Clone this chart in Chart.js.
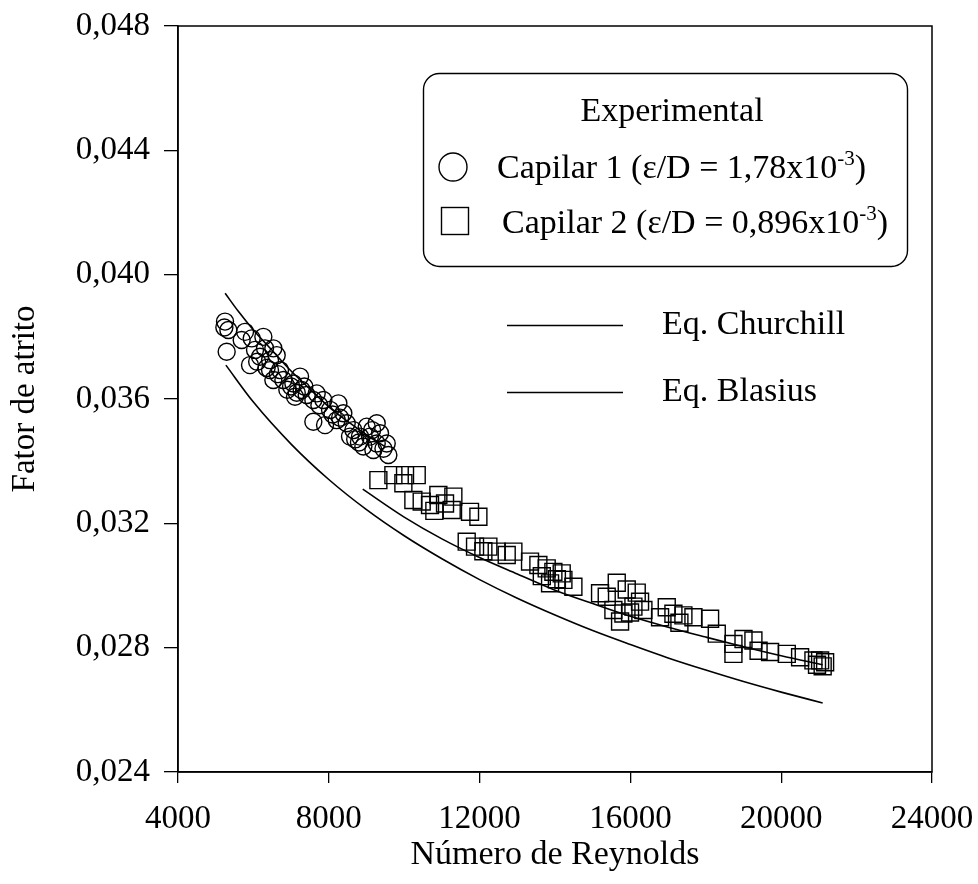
<!DOCTYPE html>
<html>
<head>
<meta charset="utf-8">
<script src="https://cdn.jsdelivr.net/npm/chart.js@4"></script>
<style>
  html, body { margin: 0; padding: 0; background: #fff; }
  #wrap { width: 978px; height: 884px; position: relative; }
</style>
</head>
<body>
<div id="wrap"><canvas id="chart" width="978" height="884"></canvas></div>
<script>
// --- data ---
const xTicks = [4000, 8000, 12000, 16000, 20000, 24000];
const yTicks = [0.024, 0.028, 0.032, 0.036, 0.040, 0.044, 0.048];

// Capilar 1 (circles)
const reCap1 = [5247, 5336, 5291, 5230, 5778, 5689, 5955, 6264, 6043, 6308, 6529, 5910, 6176, 6441, 6618,
  6441, 6706, 6529, 6795, 7060, 7237, 7281, 7104, 7414, 7590, 7679, 7856, 7590, 7900, 8033,
  8254, 8386, 8210, 8475, 8652, 8563, 8828, 9005, 9271, 9094, 9359, 9271, 9536, 9580, 8917,
  9182, 6100, 6350, 6900, 7150, 7350, 7750, 8100, 8300, 8700, 9150, 9450, 6650, 7000, 8800];
const fCap1 = [0.03849, 0.03822, 0.03752, 0.03830, 0.03816, 0.03790, 0.03795, 0.03800, 0.03758, 0.03763, 0.03763, 0.03709, 0.03736, 0.03725, 0.03741,
  0.03693, 0.03693, 0.03661, 0.03661, 0.03650, 0.03672, 0.03629, 0.03607, 0.03613, 0.03597, 0.03618, 0.03597, 0.03527, 0.03516, 0.03565,
  0.03586, 0.03554, 0.03532, 0.03522, 0.03500, 0.03479, 0.03479, 0.03511, 0.03522, 0.03479, 0.03490, 0.03457, 0.03457, 0.03420, 0.03447,
  0.03436, 0.03720, 0.03700, 0.03630, 0.03620, 0.03640, 0.03580, 0.03550, 0.03540, 0.03470, 0.03500, 0.03440, 0.03680, 0.03640, 0.03460];

// Capilar 2 (squares)
const reCap2 = [9315, 9713, 10022, 10332, 9978, 10243, 10464, 10685, 10906, 11083, 11260, 11304, 11746, 11968,
  11658, 11879, 12233, 12454, 12719, 12896, 13338, 13559, 13780, 13957, 14178, 14223, 13869, 14488,
  15195, 15372, 15549, 15814, 16080, 16256, 16345, 15726, 15638, 15903, 16168, 15991, 16964, 16787,
  17141, 17406, 17672, 18114, 18291, 18733, 19000, 19263, 18733, 19705, 20148, 20501, 20855, 21032,
  21165, 21100, 20950, 13650, 14050, 12100, 10800, 17300, 19400];
const fCap2 = [0.03339, 0.03355, 0.03355, 0.03355, 0.03329, 0.03275, 0.03270, 0.03259, 0.03291, 0.03264, 0.03243, 0.03286, 0.03237, 0.03221,
  0.03141, 0.03125, 0.03125, 0.03109, 0.03098, 0.03109, 0.03077, 0.03066, 0.03055, 0.03044, 0.03039, 0.03018, 0.03007, 0.02996,
  0.02975, 0.02964, 0.02921, 0.02910, 0.02932, 0.02948, 0.02921, 0.02884, 0.03009, 0.02987, 0.02977, 0.02913, 0.02930, 0.02898,
  0.02909, 0.02904, 0.02898, 0.02893, 0.02845, 0.02812, 0.02828, 0.02823, 0.02780, 0.02786, 0.02780, 0.02769, 0.02759, 0.02759,
  0.02753, 0.02740, 0.02745, 0.03030, 0.03020, 0.03110, 0.03240, 0.02880, 0.02790];

// Eq. Churchill (one curve per capillary)
const reChurchill1 = [5250, 5600, 6000, 6500, 7000, 7500, 8000, 8500, 9000, 9500];
const fChurchill1 = [0.03940, 0.03882, 0.03822, 0.03756, 0.03690, 0.03632, 0.03575, 0.03528, 0.03485, 0.03446];
const reChurchill2 = [8900, 10000, 11000, 12000, 13000, 14000, 15000, 16000, 17000, 18000, 19000, 20000, 21100];
const fChurchill2 = [0.03310, 0.03220, 0.03150, 0.03090, 0.03037, 0.02985, 0.02942, 0.02901, 0.02866, 0.02834, 0.02803, 0.02774, 0.02745];

// Eq. Blasius
const reBlasius = [5270, 6000, 7000, 8000, 9000, 10000, 11000, 12000, 13000, 14000, 15000, 16000, 17000, 18000, 19000, 20000, 21100];
const fBlasius = [0.03709, 0.03590, 0.03455, 0.03341, 0.03244, 0.03160, 0.03086, 0.03019, 0.02959, 0.02905, 0.02855, 0.02810, 0.02767, 0.02728, 0.02691, 0.02657, 0.02622];

const pts = (xs, ys) => xs.map((x, i) => ({ x: x, y: ys[i] }));
const serif = '"Liberation Serif", "Times New Roman", serif';
const legendFont = '34px ' + serif;

// frame + hand-made legend
const framePlugin = {
    id: 'frame',
    afterDraw(chart) {
        const { ctx, chartArea: a } = chart;
        ctx.save();
        ctx.strokeStyle = '#000';
        ctx.lineWidth = 1.5;
        ctx.strokeRect(a.left, a.top, a.right - a.left, a.bottom - a.top);

        // legend box
        ctx.lineWidth = 1.4;
        ctx.beginPath();
        ctx.roundRect(423.5, 73.5, 484, 193, 16);
        ctx.stroke();

        ctx.fillStyle = '#000';
        ctx.textBaseline = 'alphabetic';
        ctx.font = legendFont;
        ctx.textAlign = 'center';
        ctx.fillText('Experimental', 672, 121);

        ctx.textAlign = 'left';
        const supText = (main, sup, tail, x, y) => {
            ctx.font = legendFont;
            ctx.fillText(main, x, y);
            let w = ctx.measureText(main).width;
            ctx.font = '21px ' + serif;
            ctx.fillText(sup, x + w, y - 13);
            w += ctx.measureText(sup).width;
            ctx.font = legendFont;
            ctx.fillText(tail, x + w, y);
        };
        supText('Capilar 1 (\u03b5/D = 1,78x10', '-3', ')', 497, 178);
        supText('Capilar 2 (\u03b5/D = 0,896x10', '-3', ')', 502, 233);

        ctx.lineWidth = 1.4;
        ctx.beginPath();
        ctx.arc(453, 167, 14, 0, Math.PI * 2);
        ctx.stroke();
        ctx.strokeRect(441.5, 207.5, 27, 27);

        ctx.lineWidth = 1.5;
        ctx.beginPath();
        ctx.moveTo(507, 325.5); ctx.lineTo(623, 325.5);
        ctx.moveTo(507, 392.5); ctx.lineTo(623, 392.5);
        ctx.stroke();
        ctx.font = legendFont;
        ctx.fillText('Eq. Churchill', 662, 334);
        ctx.fillText('Eq. Blasius', 662, 401);
        ctx.restore();
    }
};

const lineSet = (label, xs, ys) => ({
    label: label,
    type: 'line',
    data: pts(xs, ys),
    borderColor: '#000',
    borderWidth: 1.6,
    pointRadius: 0,
    fill: false,
    cubicInterpolationMode: 'monotone'
});

new Chart(document.getElementById('chart').getContext('2d'), {
    type: 'scatter',
    data: {
        datasets: [
            {
                label: 'Capilar 1',
                data: pts(reCap1, fCap1),
                pointStyle: 'circle',
                pointRadius: 8.5,
                borderColor: '#000',
                borderWidth: 1.4,
                backgroundColor: 'rgba(0,0,0,0)'
            },
            {
                label: 'Capilar 2',
                data: pts(reCap2, fCap2),
                pointStyle: 'rect',
                pointRadius: 12,
                borderColor: '#000',
                borderWidth: 1.4,
                backgroundColor: 'rgba(0,0,0,0)'
            },
            lineSet('Eq. Churchill 1', reChurchill1, fChurchill1),
            lineSet('Eq. Churchill 2', reChurchill2, fChurchill2),
            lineSet('Eq. Blasius', reBlasius, fBlasius)
        ]
    },
    options: {
        responsive: false,
        animation: false,
        events: [],
        layout: { padding: { top: 26, right: 46, left: 0, bottom: 0 } },
        plugins: {
            legend: { display: false },
            tooltip: { enabled: false }
        },
        scales: {
            x: {
                type: 'linear',
                min: xTicks[0],
                max: xTicks[xTicks.length - 1],
                afterBuildTicks: (s) => { s.ticks = xTicks.map(v => ({ value: v })); },
                afterFit: (s) => { s.height = 112; s.paddingLeft = 0; s.paddingRight = 0; },
                ticks: {
                    color: '#000',
                    font: { family: serif, size: 33 },
                    padding: 17,
                    maxRotation: 0,
                    callback: (v) => String(v)
                },
                grid: { drawOnChartArea: false, drawTicks: true, tickLength: 11, color: '#000', lineWidth: 1.3 },
                border: { color: '#000', width: 1.5 },
                title: {
                    display: true,
                    text: 'Número de Reynolds',
                    color: '#000',
                    font: { family: serif, size: 34 },
                    padding: { top: 0, bottom: 9 }
                }
            },
            y: {
                type: 'linear',
                min: yTicks[0],
                max: yTicks[yTicks.length - 1],
                afterBuildTicks: (s) => { s.ticks = yTicks.map(v => ({ value: v })); },
                afterFit: (s) => { s.width = 178; s.paddingTop = 0; s.paddingBottom = 0; },
                ticks: {
                    color: '#000',
                    font: { family: serif, size: 33 },
                    padding: 14,
                    callback: (v) => v.toFixed(3).replace('.', ',')
                },
                grid: { drawOnChartArea: false, drawTicks: true, tickLength: 14, color: '#000', lineWidth: 1.3 },
                border: { color: '#000', width: 1.5 },
                title: {
                    display: true,
                    text: 'Fator de atrito',
                    color: '#000',
                    font: { family: serif, size: 33 },
                    padding: { top: 6, bottom: 0 }
                }
            }
        }
    },
    plugins: [framePlugin]
});
</script>
</body>
</html>
